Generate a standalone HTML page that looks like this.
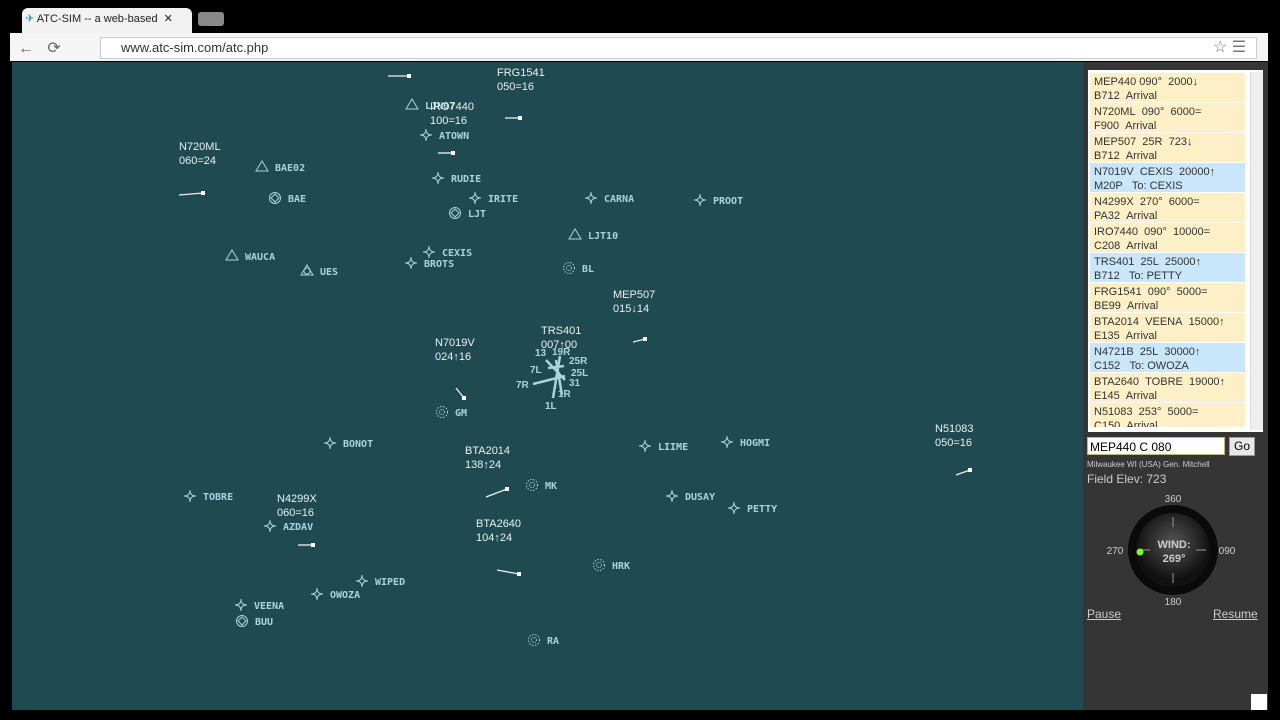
<!DOCTYPE html>
<html><head><meta charset="utf-8"><style>
body{margin:0;width:1280px;height:720px;background:#000;overflow:hidden;font-family:"Liberation Sans",sans-serif;position:relative}
.abs{position:absolute}
#tab{left:22px;top:8px;width:170px;height:26px;background:#f2f2f2;border-radius:6px 6px 0 0;font-size:11px;color:#222;line-height:22px}
#addr{left:10px;top:33px;width:1258px;height:28px;background:#f5f5f5}
#url{left:100px;top:37px;width:1135px;height:20px;background:#fff;border:1px solid #ccc;font-size:13px;color:#333;line-height:20px;padding-left:20px}
#radar{left:12px;top:62px;width:1071px;height:648px;background:#1f4a52}
#panel{left:1083px;top:62px;width:185px;height:648px;background:#353535}
#list{left:1088px;top:70px;width:175px;height:362px;background:#fff}
.ent{position:absolute;left:2px;width:155px;height:29px;font-size:11px;color:#333;line-height:14px;padding-left:4px;box-sizing:border-box;padding-top:2px}
</style></head><body>
<div class="abs" id="tab">&nbsp;<span style="color:#3a8fd8">✈</span> ATC-SIM -- a web-based &nbsp;✕</div>
<div class="abs" style="left:198px;top:12px;width:26px;height:14px;background:#888;border-radius:3px"></div>
<div class="abs" id="addr"></div>
<div class="abs" style="left:18px;top:38px;font-size:16px;color:#666">← &nbsp; ⟳</div>
<div class="abs" id="url">www.atc-sim.com/atc.php</div>
<div class="abs" style="left:1213px;top:37px;font-size:16px;color:#777">☆ ☰</div>
<div class="abs" id="radar">
<svg id="svg" width="1071" height="648" viewBox="12 62 1071 648"></svg></div>
<div class="abs" id="panel"></div>
<div class="abs" id="list"></div>
<div class="abs" style="left:1250px;top:72px;width:12px;height:358px;background:#eee;border-left:1px solid #ddd"></div>
<div class="abs" style="left:1087px;top:437px;width:136px;height:18px;background:#fff;border:1px solid #c9b27a;font-size:12px;line-height:18px;padding-left:2px;box-sizing:border-box;width:138px">MEP440 C 080</div>
<div class="abs" style="left:1229px;top:437px;width:26px;height:19px;background:#e8e8e8;border:1px solid #999;box-sizing:border-box;font-size:12px;text-align:center;line-height:17px">Go</div>
<div class="abs" style="left:1087px;top:460px;font-size:8px;color:#ccc">Milwaukee WI (USA) Gen. Mitchell</div>
<div class="abs" style="left:1087px;top:472px;font-size:12px;color:#ccc">Field Elev: 723</div>
<svg class="abs" style="left:1100px;top:490px" width="150" height="120">
<defs><radialGradient id="g" cx="50%" cy="40%"><stop offset="0" stop-color="#555"/><stop offset="1" stop-color="#111"/></radialGradient></defs>
<circle cx="73" cy="60" r="45" fill="#0a0a0a"/><circle cx="73" cy="60" r="37" fill="url(#g)"/>
<g stroke="#999" stroke-width="1"><line x1="73" y1="27" x2="73" y2="37"/><line x1="73" y1="83" x2="73" y2="93"/><line x1="96" y1="60" x2="106" y2="60"/><line x1="40" y1="60" x2="50" y2="60"/></g>
<circle cx="40" cy="62" r="3.5" fill="#7f2"/>
<text x="74" y="58" fill="#ccc" font-size="11" font-weight="bold" text-anchor="middle">WIND:</text>
<text x="74" y="72" fill="#ccc" font-size="11" font-weight="bold" text-anchor="middle">269°</text>
<text x="73" y="12" fill="#ccc" font-size="10" text-anchor="middle">360</text>
<text x="73" y="115" fill="#ccc" font-size="10" text-anchor="middle">180</text>
<text x="15" y="64" fill="#ccc" font-size="10" text-anchor="middle">270</text>
<text x="127" y="64" fill="#ccc" font-size="10" text-anchor="middle">090</text>
</svg>
<div class="abs" style="left:1087px;top:607px;font-size:12px;color:#ccc;text-decoration:underline">Pause</div>
<div class="abs" style="left:1213px;top:607px;font-size:12px;color:#ccc;text-decoration:underline">Resume</div>
<div class="abs" style="left:1251px;top:694px;width:16px;height:16px;background:#fff"></div>
<script>
const fixNames=["LJN07","ATOWN","RUDIE","IRITE","LJT","CARNA","PROOT","LJT10","CEXIS","BROTS","BL","BAE02","BAE","WAUCA","UES","GM","BONOT","LIIME","HOGMI","MK","DUSAY","PETTY","TOBRE","AZDAV","WIPED","OWOZA","VEENA","BUU","HRK","RA"];
const fixTypes=["t","s","s","s","v","s","s","t","s","s","n","t","v","t","u","n","s","s","s","n","s","s","s","s","s","s","s","v","n","n"];
const fixX=[412,426,438,475,455,591,700,575,429,411,569,262,275,232,307,442,330,645,727,532,672,734,190,270,362,317,241,242,599,534];
const fixY=[105,135,178,198,213,198,200,235,252,263,268,167,198,256,271,412,443,446,442,485,496,508,496,526,581,594,605,621,565,640];
const acNames=["FRG1541","IRO7440","N720ML","MEP507","TRS401","N7019V","BTA2014","N4299X","BTA2640","N51083"];
const acInfo=["050=16","100=16","060=24","015↓14","007↑00","024↑16","138↑24","060=16","104↑24","050=16"];
const acX=[497,430,179,613,541,435,465,277,476,935];
const acY=[67,101,141,289,325,337,445,493,518,423];
const trails=[[388,76,409,76],[505,118,520,118],[438,153,453,153],[179,195,203,193],[633,342,645,339],[456,388,464,398],[486,497,507,489],[298,545,313,545],[497,570,519,574],[956,475,970,470]];
const S="http://www.w3.org/2000/svg",svg=document.getElementById('svg'),C="#a8d4e0";
function mk(t,a,p){const e=document.createElementNS(S,t);for(const k in a)e.setAttribute(k,a[k]);(p||svg).appendChild(e);return e;}
fixNames.forEach((n,i)=>{const x=fixX[i],y=fixY[i],t=fixTypes[i];
 const g=mk('g',{fill:'none',stroke:C,'stroke-width':1});
 
 
 if(t=='s')mk('path',{d:`M${x} ${y-6}Q${x} ${y} ${x+6} ${y}Q${x} ${y} ${x} ${y+6}Q${x} ${y} ${x-6} ${y}Q${x} ${y} ${x} ${y-6}Z`},g);
 else if(t=='t'||t=='u'){mk('path',{d:`M${x} ${y-6}L${x+6} ${y+4}L${x-6} ${y+4}Z`},g);if(t=='u')mk('circle',{cx:x,cy:y,r:3},g);}
 else if(t=='v'){mk('circle',{cx:x,cy:y,r:5.5},g);mk('path',{d:`M${x} ${y-4}L${x+4} ${y}L${x} ${y+4}L${x-4} ${y}Z`},g);}
 else {mk('circle',{cx:x,cy:y,r:5.5,'stroke-dasharray':'1.5 1.5'},g);mk('circle',{cx:x,cy:y,r:2.5,'stroke-dasharray':'1 1'},g);}
 const tx=mk('text',{x:x+13,y:y+4,fill:C,'font-size':10,'font-weight':'bold','font-family':'DejaVu Sans Mono, monospace'},g);tx.setAttribute('stroke','none');tx.textContent=n;});
// runways
const rw=mk('g',{stroke:C,'stroke-width':2.5});


[[546,360,565,380],[533,384,565,376],[560,356,553,398],[548,368,564,366],[556,360,562,395]].forEach(l=>mk('line',{x1:l[0],y1:l[1],x2:l[2],y2:l[3]},rw));
[["13",535,356],["19R",552,355],["25R",569,364],["7L",530,373],["25L",571,376],["7R",516,388],["31",569,386],["1R",558,397],["1L",545,409]].forEach(r=>{const t=mk('text',{x:r[1],y:r[2],fill:C,'font-size':10,'font-weight':'bold'},rw);t.setAttribute('stroke','none');t.textContent=r[0];});
acNames.forEach((n,i)=>{const g=mk('g',{fill:'#e8f2f2','font-size':11});
 
 
 mk('text',{x:acX[i],y:acY[i]+9},g).textContent=n;mk('text',{x:acX[i],y:acY[i]+23},g).textContent=acInfo[i];});
trails.forEach(t=>{const g=mk('g',{});
 
 
 mk('line',{x1:t[0],y1:t[1],x2:t[2],y2:t[3],stroke:'#eee','stroke-width':1.3},g);mk('rect',{x:t[2]-2,y:t[3]-2,width:4,height:4,fill:'#fff'},g);});
// strips
const strips=[["MEP440 090°  2000↓","B712  Arrival",0],["N720ML  090°  6000=","F900  Arrival",0],["MEP507  25R  723↓","B712  Arrival",0],["N7019V  CEXIS  20000↑","M20P   To: CEXIS",1],["N4299X  270°  6000=","PA32  Arrival",0],["IRO7440  090°  10000=","C208  Arrival",0],["TRS401  25L  25000↑","B712   To: PETTY",1],["FRG1541  090°  5000=","BE99  Arrival",0],["BTA2014  VEENA  15000↑","E135  Arrival",0],["N4721B  25L  30000↑","C152   To: OWOZA",1],["BTA2640  TOBRE  19000↑","E145  Arrival",0],["N51083  253°  5000=","C150  Arrival",0]];
const L=document.getElementById('list');
strips.forEach((s,i)=>{const d=document.createElement('div');d.className='ent';
 
 
 d.style.top=(3+i*30)+'px';if(i==11)d.style.height='24px';d.style.overflow='hidden';d.style.background=s[2]?'#c9e6fa':'#fdefc6';d.innerHTML=s[0].replace(/ /g,'&nbsp;')+'<br>'+s[1].replace(/ /g,'&nbsp;');L.appendChild(d);});
</script>
</body></html>
